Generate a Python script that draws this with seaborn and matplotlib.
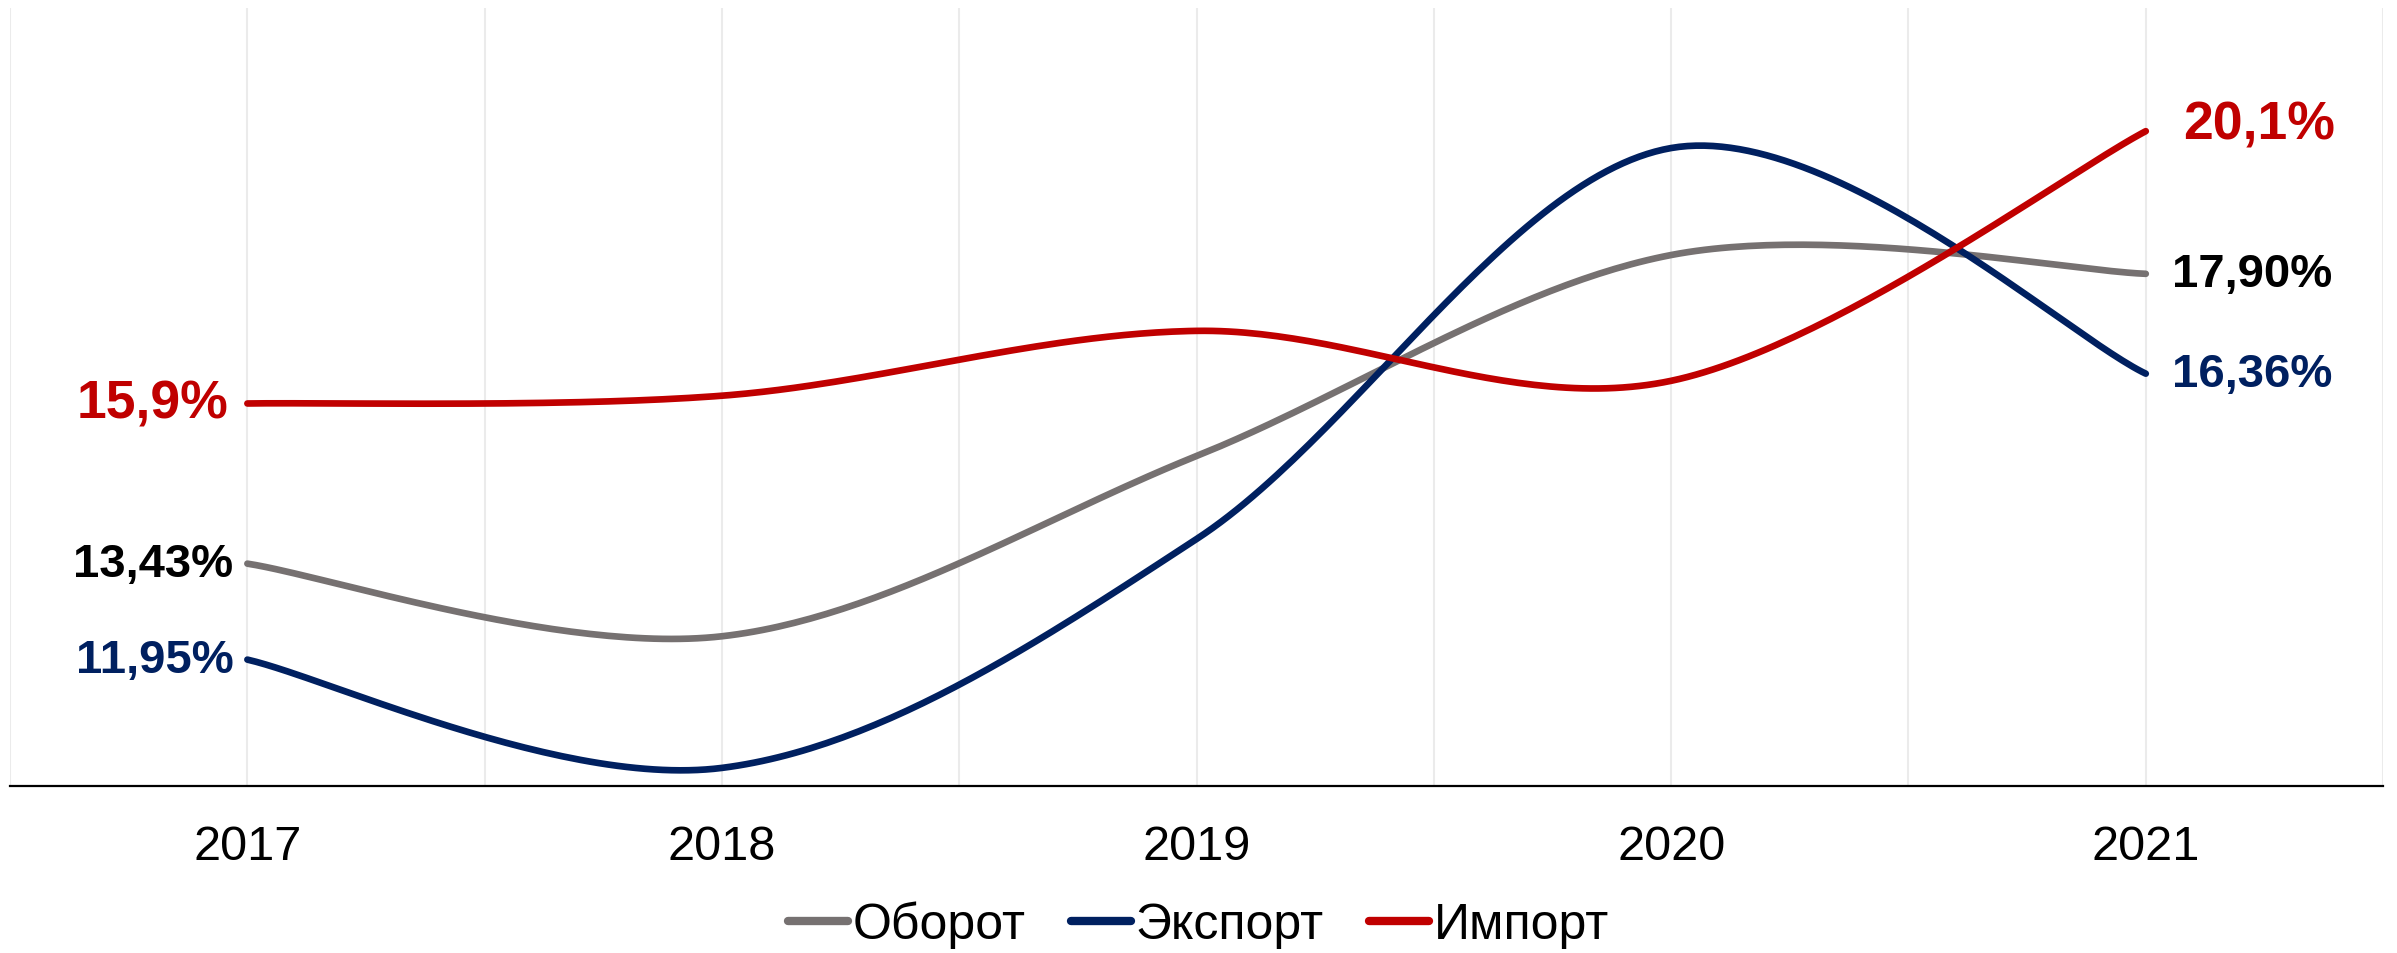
import numpy as np
import pandas as pd
import matplotlib
matplotlib.use("Agg")
import matplotlib.pyplot as plt
import seaborn as sns

# ── Data ──────────────────────────────────────────────────────────────────
years = ["2017", "2018", "2019", "2020", "2021"]
series_names = ["Оборот", "Экспорт", "Импорт"]
oborot = [13.43, 12.31, 15.09, 18.19, 17.90]
eksport = [11.95, 10.28, 13.81, 19.84, 16.36]
import_ = [15.9, 16.02, 17.02, 16.25, 20.1]

colors = {"Оборот": "#767171", "Экспорт": "#002060", "Импорт": "#C00000"}
label_colors = {"Оборот": "#000000", "Экспорт": "#002060", "Импорт": "#C00000"}
decimals = {"Оборот": 2, "Экспорт": 2, "Импорт": 1}


def smooth(xs, ys, n=60):
    # Excel-style smoothed line: Catmull-Rom drawn as cubic Bezier segments
    p = np.column_stack([xs, ys]).astype(float)
    p = np.vstack([p[0], p, p[-1]])
    out = []
    t = np.linspace(0, 1, n)[:, None]
    for i in range(1, len(p) - 2):
        p0, p3 = p[i], p[i + 1]
        p1 = p0 + (p[i + 1] - p[i - 1]) / 6
        p2 = p3 - (p[i + 2] - p[i]) / 6
        seg = ((1 - t) ** 3) * p0 + 3 * ((1 - t) ** 2) * t * p1 + 3 * (1 - t) * t ** 2 * p2 + t ** 3 * p3
        out.append(seg if i == 1 else seg[1:])
    return np.vstack(out)


values = {"Оборот": oborot, "Экспорт": eksport, "Импорт": import_}
xpos = np.arange(len(years))

rows = []
for name in series_names:
    curve = smooth(xpos, values[name])
    rows.append(pd.DataFrame({"x": curve[:, 0], "y": curve[:, 1], "series": name}))
df = pd.concat(rows, ignore_index=True)

# ── Plot ──────────────────────────────────────────────────────────────────
sns.set_theme(style="white")
plt.rcParams["font.family"] = ["Liberation Sans", "DejaVu Sans"]
plt.rcParams["text.color"] = "black"
plt.rcParams["xtick.color"] = "black"

fig = plt.figure(figsize=(23.97, 9.54), dpi=100)
ax = fig.add_axes([0.0042, 0.175, 0.9900, 0.8156])

for xg in np.arange(-0.5, len(years), 0.5):
    ax.axvline(xg, color="#ebebeb", lw=1.5, zorder=0)

sns.lineplot(data=df, x="x", y="y", hue="series", palette=colors, sort=False,
             estimator=None, linewidth=4.8, solid_capstyle="round", ax=ax, legend=True)

# end labels
for name in series_names:
    v = values[name]
    fs = 38.5 if name == "Импорт" else 34
    fmt = lambda val: f"{val:.{decimals[name]}f}".replace(".", ",") + "%"
    lx = -14 if name == "Импорт" else -10
    rx = 27 if name == "Импорт" else 19
    ry = 5 if name == "Импорт" else 0
    ax.annotate(fmt(v[0]), (xpos[0], v[0]), xytext=(lx, 0), textcoords="offset points",
                ha="right", va="center", fontsize=fs, fontweight="bold", color=label_colors[name])
    ax.annotate(fmt(v[-1]), (xpos[-1], v[-1]), xytext=(rx, ry), textcoords="offset points",
                ha="left", va="center", fontsize=fs, fontweight="bold", color=label_colors[name])

ax.set_xlim(-0.5, len(years) - 0.5)
ax.set_ylim(10, 22)
ax.set_xticks(xpos)
ax.set_xticklabels(years, fontsize=35, color="black")
ax.set_yticks([])
ax.tick_params(axis="x", length=0, pad=27)
ax.set_xlabel("")
ax.set_ylabel("")
for s in ["top", "left", "right"]:
    ax.spines[s].set_visible(False)
ax.spines["bottom"].set_color("#000000")
ax.spines["bottom"].set_linewidth(1.6)

handles, labels = ax.get_legend_handles_labels()
ax.get_legend().remove()
for h in handles:
    h.set_linewidth(6)
    h.set_solid_capstyle("round")
fig.legend(handles, labels, loc="center", bbox_to_anchor=(0.5, 0.03), ncol=3,
           frameon=False, fontsize=36, handlelength=1.2, handletextpad=0.1,
           columnspacing=0.9, labelcolor="black")

fig.savefig("out.png", dpi=100)
